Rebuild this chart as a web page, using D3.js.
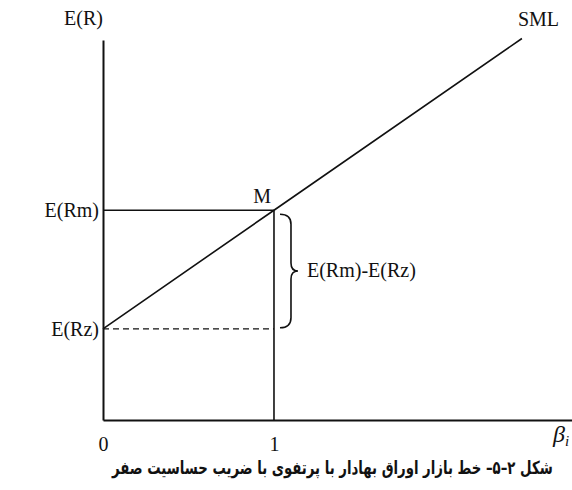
<!DOCTYPE html>
<html lang="fa">
<head>
  <meta charset="UTF-8">
  <title>SML with zero-beta portfolio</title>
  <script src="https://d3js.org/d3.v7.min.js"></script>
  <style>
    body { margin: 0; background: #fff; overflow: hidden; }
    .wrap { position: relative; width: 572px; height: 490px; overflow: hidden; }
    svg text { font-family: "Liberation Serif", "Times New Roman", serif; fill: #111; }
    .caption {
      position: absolute; left: 0; top: 459px;
      white-space: nowrap; line-height: 1;
      font-family: "DejaVu Sans", sans-serif; font-weight: bold; color: #111;
      font-size: 18px; transform-origin: 0 0;
    }
  </style>
</head>
<body>
  <div class="wrap">
    <svg width="572" height="490"></svg>
    <span class="caption" dir="rtl"></span>
  </div>
  <script>
    // beta ticks on the x axis
    const betaTicks = [0, 1];
    const betaLabels = ["0", "1"];
    // expected return levels marked on the y axis
    const levelNames = ["E(Rz)", "E(Rm)"];
    const levelValues = [0.06, 0.138];
    // security market line (beta, E(R))
    const smlBeta = [0, 1, 2.45];
    const smlReturn = [0.06, 0.138, 0.251];
    const caption = "شکل ۲–۵– خط بازار اوراق بهادار با پرتفوی با ضریب حساسیت صفر";

    const svg = d3.select("svg");

    const x = d3.scaleLinear().domain([0, 2.74]).range([103, 571.5]);
    const y = d3.scaleLinear().domain([0, 0.25]).range([420, 40]);

    // x axis
    const gX = svg.append("g")
      .attr("transform", `translate(0,${y(0)})`)
      .call(d3.axisBottom(x).tickValues(betaTicks)
        .tickFormat((d, i) => betaLabels[i]).tickSize(0).tickPadding(17));
    gX.select(".domain").attr("stroke", "#111").attr("stroke-width", 2);
    gX.selectAll("text").attr("font-size", 20).attr("fill", "#111")
      .style("font-family", "Liberation Serif, serif");

    // y axis
    const gY = svg.append("g")
      .attr("transform", `translate(${x(0)},0)`)
      .call(d3.axisLeft(y).tickValues(levelValues)
        .tickFormat((d, i) => levelNames[i]).tickSize(0).tickPadding(4));
    gY.select(".domain").attr("stroke", "#111").attr("stroke-width", 2);
    gY.selectAll("text").attr("font-size", 20).attr("fill", "#111")
      .style("font-family", "Liberation Serif, serif");

    // guide lines at beta = 1
    const rm = levelValues[1], rz = levelValues[0];
    svg.append("line")
      .attr("x1", x(0)).attr("x2", x(1))
      .attr("y1", y(rm)).attr("y2", y(rm))
      .attr("stroke", "#111").attr("stroke-width", 1.6);
    svg.append("line")
      .attr("x1", x(1)).attr("x2", x(1))
      .attr("y1", y(rm)).attr("y2", y(0))
      .attr("stroke", "#111").attr("stroke-width", 1.6);
    svg.append("line")
      .attr("x1", x(0)).attr("x2", x(1))
      .attr("y1", y(rz)).attr("y2", y(rz))
      .attr("stroke", "#111").attr("stroke-width", 1.3)
      .attr("stroke-dasharray", "6,4");

    // SML
    const line = d3.line().x((d, i) => x(smlBeta[i])).y(d => y(d));
    svg.append("path")
      .datum(smlReturn)
      .attr("fill", "none")
      .attr("stroke", "#111")
      .attr("stroke-width", 1.6)
      .attr("d", line);

    // brace between E(Rz) and E(Rm)
    const bx = x(1) + 6, bTop = y(rm) + 4, bBot = y(rz) - 1, bMid = (bTop + bBot) / 2;
    svg.append("path")
      .attr("fill", "none").attr("stroke", "#111").attr("stroke-width", 1.6)
      .attr("d", `M${bx},${bTop} Q${bx + 11},${bTop} ${bx + 11},${bTop + 10}
        L${bx + 11},${bMid - 8} Q${bx + 11},${bMid} ${bx + 18},${bMid}
        Q${bx + 11},${bMid} ${bx + 11},${bMid + 8}
        L${bx + 11},${bBot - 10} Q${bx + 11},${bBot} ${bx},${bBot}`);

    svg.append("text").attr("x", bx + 27).attr("y", bMid + 6)
      .attr("font-size", 20).text("E(Rm)-E(Rz)");

    // labels
    svg.append("text").attr("x", x(1) - 3).attr("y", y(rm) - 7)
      .attr("text-anchor", "end").attr("font-size", 20).text("M");
    svg.append("text").attr("x", x(0)).attr("y", 25)
      .attr("text-anchor", "end").attr("font-size", 20).text("E(R)");
    svg.append("text").attr("x", x(smlBeta[2]) - 4).attr("y", 26)
      .attr("font-size", 20).text("SML");

    const beta = svg.append("text").attr("x", 553).attr("y", 442)
      .attr("font-size", 24).attr("font-style", "italic");
    beta.append("tspan").text("β");
    beta.append("tspan").attr("font-size", 15).attr("dy", 4).text("i");

    // caption below the chart, squeezed to span x = 112..553
    const cap = d3.select(".caption").text(caption);
    const capW = cap.node().offsetWidth;
    const sx = 441 / capW;
    cap.style("transform", `translate(112px,0) scaleX(${sx})`);
  </script>
</body>
</html>
